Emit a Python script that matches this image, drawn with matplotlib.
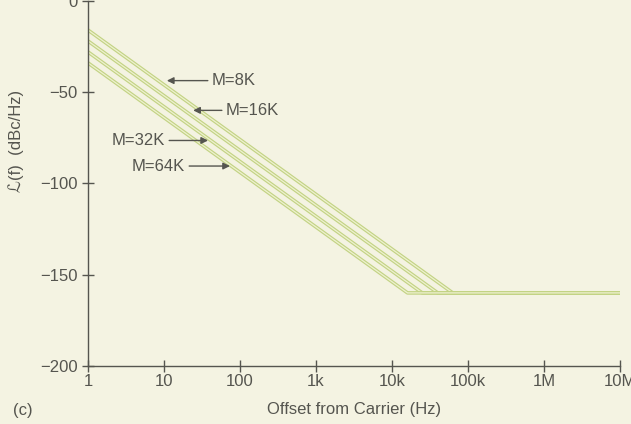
import matplotlib
matplotlib.use("Agg")
import matplotlib.pyplot as plt

plt.rcParams['font.family'] = ['Liberation Sans', 'DejaVu Sans']

# knee points: (offset Hz, dBc/Hz)
freq_8k = [1, 63e3, 1e7]
lf_8k = [-16, -160, -160]
freq_16k = [1, 40e3, 1e7]
lf_16k = [-22, -160, -160]
freq_32k = [1, 25e3, 1e7]
lf_32k = [-28, -160, -160]
freq_64k = [1, 16e3, 1e7]
lf_64k = [-34, -160, -160]

xticks = [1, 10, 100, 1e3, 1e4, 1e5, 1e6, 1e7]
xticklabels = ["1", "10", "100", "1k", "10k", "100k", "1M", "10M"]
yticks = [0, -50, -100, -150, -200]
yticklabels = ["0", "\u221250", "\u2212100", "\u2212150", "\u2212200"]

bg = "#f4f3e2"
ink = "#55554f"
fs = 12

fig = plt.figure(figsize=(6.31, 4.24), dpi=100, facecolor=bg)
ax = fig.add_axes([0.1395, 0.137, 0.843, 0.861], facecolor=bg)

for f, l in [(freq_8k, lf_8k), (freq_16k, lf_16k), (freq_32k, lf_32k), (freq_64k, lf_64k)]:
    ax.plot(f, l, color="#c3d384", lw=2.6, solid_capstyle="butt")
    ax.plot(f, l, color="#eef1d0", lw=0.9)

ax.set_xscale("log")
ax.set_xlim(1, 1e7)
ax.set_ylim(-200, 0)
ax.set_xticks(xticks)
ax.set_xticklabels(xticklabels)
ax.minorticks_off()
ax.set_yticks(yticks)
ax.set_yticklabels(yticklabels)

for s in ["top", "right"]:
    ax.spines[s].set_visible(False)
for s in ["left", "bottom"]:
    ax.spines[s].set_color(ink)
    ax.spines[s].set_linewidth(1.0)
ax.tick_params(direction="inout", length=9, width=1, color=ink,
               labelcolor=ink, labelsize=fs)
ax.tick_params(axis="x", pad=1)
ax.tick_params(axis="y", pad=3)

ax.set_xlabel("Offset from Carrier (Hz)", color=ink, fontsize=fs)
ax.xaxis.set_label_coords(0.5, -0.1)
ax.set_ylabel("\u2112(f)  (dBc/Hz)", color=ink, fontsize=fs)
ax.yaxis.set_label_coords(-0.12, 0.616)
fig.text(0.02, 0.022, "(c)", color=ink, fontsize=fs)

arrow = dict(arrowstyle="-|>", color=ink, lw=1.0, mutation_scale=10,
             shrinkA=1, shrinkB=0)
ax.annotate("M=8K", xy=(10.9, -43.7), xytext=(42.8, -43.7), ha="left",
            va="center", color=ink, fontsize=fs, arrowprops=arrow)
ax.annotate("M=16K", xy=(24.2, -60), xytext=(65.5, -60), ha="left",
            va="center", color=ink, fontsize=fs, arrowprops=arrow)
ax.annotate("M=32K", xy=(38.0, -76.5), xytext=(10.3, -76.5), ha="right",
            va="center", color=ink, fontsize=fs, arrowprops=arrow)
ax.annotate("M=64K", xy=(73.8, -90.5), xytext=(18.9, -90.5), ha="right",
            va="center", color=ink, fontsize=fs, arrowprops=arrow)

fig.savefig("out.png", dpi=100, facecolor=bg)
